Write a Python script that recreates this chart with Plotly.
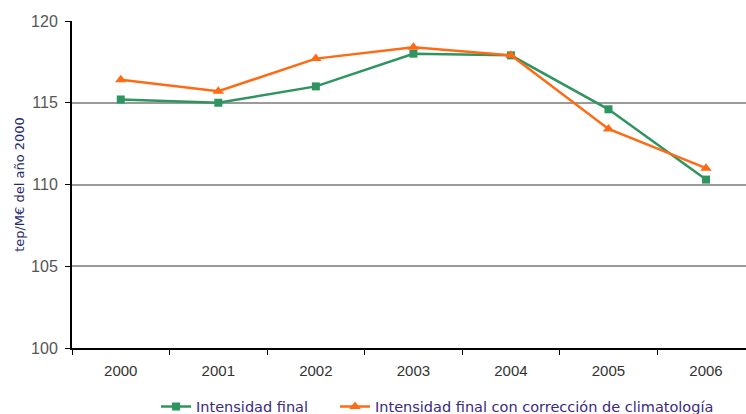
import plotly.graph_objects as go

years = ["2000", "2001", "2002", "2003", "2004", "2005", "2006"]
intensidad_final = [115.2, 115.0, 116.0, 118.0, 117.9, 114.6, 110.3]
intensidad_corregida = [116.4, 115.7, 117.7, 118.4, 117.9, 113.4, 111.0]
y_ticks = [100, 105, 110, 115, 120]

GREEN = "#2E9460"
ORANGE = "#FF6A14"
LEGEND_FONT = dict(family="DejaVu Sans, sans-serif", size=14.5, color="#3A2A80")

fig = go.Figure()
fig.add_trace(go.Scatter(
    x=years, y=intensidad_final, mode="lines+markers",
    name="Intensidad final", legend="legend",
    line=dict(color=GREEN, width=2.5),
    marker=dict(symbol="square", size=8, color=GREEN),
))
fig.add_trace(go.Scatter(
    x=years, y=intensidad_corregida, mode="lines+markers",
    name="Intensidad final con corrección de climatología", legend="legend2",
    line=dict(color=ORANGE, width=2.5),
    marker=dict(symbol="triangle-up", size=10, color=ORANGE),
))

fig.update_layout(
    width=746, height=414,
    margin=dict(l=72, r=0, t=21, b=66, autoexpand=False),
    paper_bgcolor="white", plot_bgcolor="white",
    font=dict(family="Liberation Sans, Arial, sans-serif", size=12, color="#333333"),
    legend=dict(orientation="h", x=0.1247, xanchor="left", y=-0.13, yanchor="top",
                font=LEGEND_FONT),
    legend2=dict(orientation="h", x=0.3902, xanchor="left", y=-0.13, yanchor="top",
                 font=LEGEND_FONT),
    showlegend=True,
)
fig.update_xaxes(
    type="category", range=[-0.5, 6.41],
    tickson="boundaries", ticks="outside", ticklen=5, tickcolor="black",
    showline=True, linecolor="black", linewidth=2,
    showgrid=False, tickfont=dict(size=15, color="#333333"),
    ticklabelstandoff=8,
)
fig.update_yaxes(
    range=[100, 120], tickvals=y_ticks,
    ticks="outside", ticklen=5, tickcolor="black",
    showline=True, linecolor="black", linewidth=2,
    showgrid=True, gridcolor="#9a9a9a", gridwidth=1.5,
    tickfont=dict(size=16, color="#555555"),
    ticklabelstandoff=4,
    title=dict(text="tep/M€ del año 2000", standoff=4,
               font=dict(family="DejaVu Sans, sans-serif", size=13, color="#1F2A6B")),
)

fig.write_html("out.html")
